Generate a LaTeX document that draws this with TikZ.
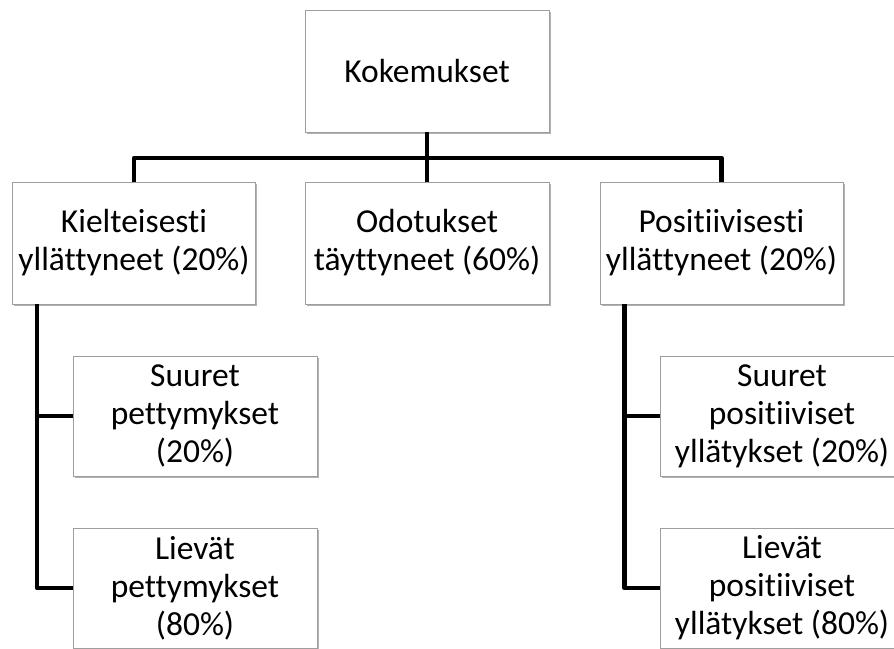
\documentclass[tikz,border=0pt]{standalone}
\usepackage{fontspec}
\setmainfont{Carlito}[Ligatures=NoCommon]
\usetikzlibrary{shadows}
\begin{document}
\begin{tikzpicture}[x=1pt,y=-1pt,
  box/.style={rectangle,draw=black!38,line width=0.9pt,fill=white,
    minimum width=244pt,minimum height=122pt,inner sep=0pt,align=center,
    font=\fontsize{33.5}{38}\selectfont,
    drop shadow={shadow xshift=1.5pt,shadow yshift=-2pt,opacity=0.3,fill=black}},
  kid/.style={box,minimum height=120pt},
  conn/.style={draw=black,line width=4.6pt,line join=round,line cap=butt}]
\useasboundingbox (0,0) rectangle (894,648);
\clip (0,0) rectangle (894,648);
\node[box] (kok) at (427,71) {Kokemukset};
\node[box,minimum width=243pt] (kiel) at (134,243) {Kielteisesti\\yllättyneet (20\%)};
\node[box] (odo) at (427,243) {Odotukset\\täyttyneet (60\%)};
\node[box,minimum width=243pt] (pos) at (721.5,243) {Positiivisesti\\yllättyneet (20\%)};
\node[kid] (ls1) at (195,416) {Suuret\\pettymykset\\(20\%)};
\node[kid] (ls2) at (195,588) {Lievät\\pettymykset\\(80\%)};
\node[kid] (rs1) at (782,416) {Suuret\\positiiviset\\yllätykset (20\%)};
\node[kid] (rs2) at (782,588) {Lievät\\positiiviset\\yllätykset (80\%)};
\coordinate (bus) at (0,158);
\draw[conn] (kok.south) -- (odo.north);
\draw[conn] (kiel.north) -- (kiel.north |- bus) -- (pos.north |- bus) -- (pos.north);
\coordinate (lx) at ([xshift=25pt]kiel.south west);
\coordinate (rx) at ([xshift=25pt]pos.south west);
\draw[conn] (lx) |- (ls2.west);
\draw[conn] (ls1.west) -- (ls1.west -| lx);
\draw[conn] (rx) |- (rs2.west);
\draw[conn] (rs1.west) -- (rs1.west -| rx);
\end{tikzpicture}
\end{document}
